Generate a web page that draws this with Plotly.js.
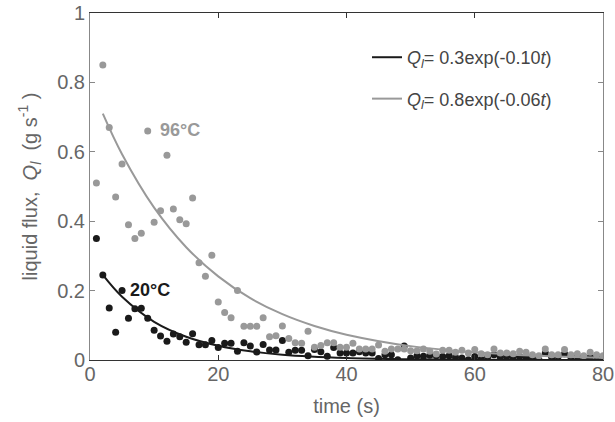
<!DOCTYPE html>
<html>
<head>
<meta charset="utf-8">
<script src="https://cdn.plot.ly/plotly-3.0.1.min.js"></script>
<style>html,body{margin:0;padding:0;background:#fff;}#chart{width:615px;height:422px;}</style>
</head>
<body>
<div id="chart"></div>
<script>
// time (s), 1..80
var time = [1,2,3,4,5,6,7,8,9,10,11,12,13,14,15,16,17,18,19,20,21,22,23,24,25,26,27,28,29,30,31,32,33,34,35,36,37,38,39,40,41,42,43,44,45,46,47,48,49,50,51,52,53,54,55,56,57,58,59,60,61,62,63,64,65,66,67,68,69,70,71,72,73,74,75,76,77,78,79,80];
// 20°C measured liquid flux
var flux20 = [0.35,0.245,0.15,0.08,0.20,0.12,0.148,0.149,0.12,0.086,0.069,0.054,0.075,0.067,0.051,0.076,0.044,0.044,0.056,0.036,0.048,0.048,0.025,0.05,0.04,0.023,0.045,0.029,0.029,0.056,0.022,0.028,0.028,0.012,0.03,0.024,0.011,0.036,0.02,0.02,0.02,0.024,0.02,0.02,0.004,0.015,0.015,0.001,0.04,0.006,0.012,0.011,0.014,0.012,0.01,0.012,0.008,0.006,0.001,0.01,0.002,0.008,0.015,0.008,0.01,0.008,0.01,0.007,0.006,0.001,0.02,0.008,0.01,0.018,0.008,0.01,0.002,0.008,0.01,0.008];
// 96°C measured liquid flux
var flux96 = [0.51,0.85,0.67,0.47,0.565,0.39,0.35,0.365,0.66,0.397,0.43,0.59,0.435,0.404,0.393,0.467,0.28,0.241,0.302,0.167,0.137,0.122,0.20,0.097,0.097,0.097,0.122,0.067,0.07,0.098,0.062,0.05,0.048,0.083,0.037,0.042,0.05,0.05,0.037,0.037,0.048,0.032,0.032,0.032,0.043,0.025,0.032,0.032,0.032,0.027,0.027,0.032,0.025,0.017,0.028,0.028,0.022,0.028,0.02,0.03,0.018,0.015,0.032,0.02,0.02,0.018,0.025,0.022,0.015,0.012,0.032,0.015,0.015,0.03,0.015,0.018,0.012,0.022,0.015,0.012];
// fitted curves
var fit20T = [2,5,10,15,20,25,30,40,50,60,70,80];
var fit20Q = [0.245,0.182,0.110,0.067,0.041,0.025,0.015,0.0055,0.002,0.0007,0.0003,0.0001];
var fit96T = [2,5,10,15,20,25,30,35,40,50,60,70,80];
var fit96Q = [0.710,0.593,0.439,0.325,0.241,0.178,0.132,0.098,0.073,0.040,0.022,0.012,0.0066];
var legendLabels = ['<i>Q</i><sub><i>l</i></sub>= 0.3exp(-0.10<i>t</i>)', '<i>Q</i><sub><i>l</i></sub>= 0.8exp(-0.06<i>t</i>)'];
var tempLabels = ['20°C', '96°C'];
var xTicks = [0,20,40,60,80];
var yTicks = [0,0.2,0.4,0.6,0.8,1];
var yTickText = ['0','0.2','0.4','0.6','0.8','1'];

var black = '#1a1a1a', grey = '#999999';
var F = '"Liberation Sans", Arial, Helvetica, sans-serif';

var traces = [
  {x: time, y: flux20, type: 'scatter', mode: 'markers', marker: {color: black, size: 7}, showlegend: false, hoverinfo: 'skip'},
  {x: time, y: flux96, type: 'scatter', mode: 'markers', marker: {color: grey, size: 7}, showlegend: false, hoverinfo: 'skip'},
  {x: fit20T, y: fit20Q, type: 'scatter', mode: 'lines', line: {color: black, width: 2, shape: 'spline'}, name: legendLabels[0], legendgroup: 'a'},
  {x: fit96T, y: fit96Q, type: 'scatter', mode: 'lines', line: {color: grey, width: 2, shape: 'spline'}, name: legendLabels[1], legendgroup: 'b'}
];

var layout = {
  width: 615, height: 422,
  margin: {l: 90, r: 12, t: 13, b: 62},
  paper_bgcolor: '#fff', plot_bgcolor: '#fff',
  font: {family: F, color: '#666', size: 20},
  showlegend: true,
  legend: {x: 0.54, y: 0.925, xanchor: 'left', yanchor: 'top', bgcolor: 'rgba(0,0,0,0)',
           font: {family: F, size: 18, color: '#444'}, tracegroupgap: 15, traceorder: 'grouped', itemwidth: 30},
  xaxis: {range: [0, 80], tickvals: xTicks, ticks: 'inside', ticklen: 5, tickcolor: '#333',
          showline: true, linecolor: '#333', linewidth: 1, mirror: 'ticks', showgrid: false, zeroline: false,
          ticklabelstandoff: -4,
          tickfont: {family: F, size: 20, color: '#666'},
          title: {text: 'time (s)', font: {family: F, size: 20, color: '#666'}, standoff: 14}},
  yaxis: {range: [0, 1], tickvals: yTicks, ticktext: yTickText,
          ticks: 'inside', ticklen: 5, tickcolor: '#888',
          showline: true, linecolor: '#888', linewidth: 1, mirror: 'ticks', showgrid: false, zeroline: false,
          tickfont: {family: F, size: 20, color: '#666'},
          title: {text: 'liquid flux,  <i>Q</i><sub><i>l</i></sub>  (g s<sup>-1</sup> )', font: {family: F, size: 20, color: '#666'}, standoff: 14}},
  annotations: [
    {x: 9.4, y: 0.203, xref: 'x', yref: 'y', text: '<b>' + tempLabels[0] + '</b>', showarrow: false, font: {family: F, size: 18, color: black}},
    {x: 14.0, y: 0.664, xref: 'x', yref: 'y', text: '<b>' + tempLabels[1] + '</b>', showarrow: false, font: {family: F, size: 18, color: grey}}
  ]
};

Plotly.newPlot('chart', traces, layout, {displayModeBar: false, staticPlot: true});
</script>
</body>
</html>
